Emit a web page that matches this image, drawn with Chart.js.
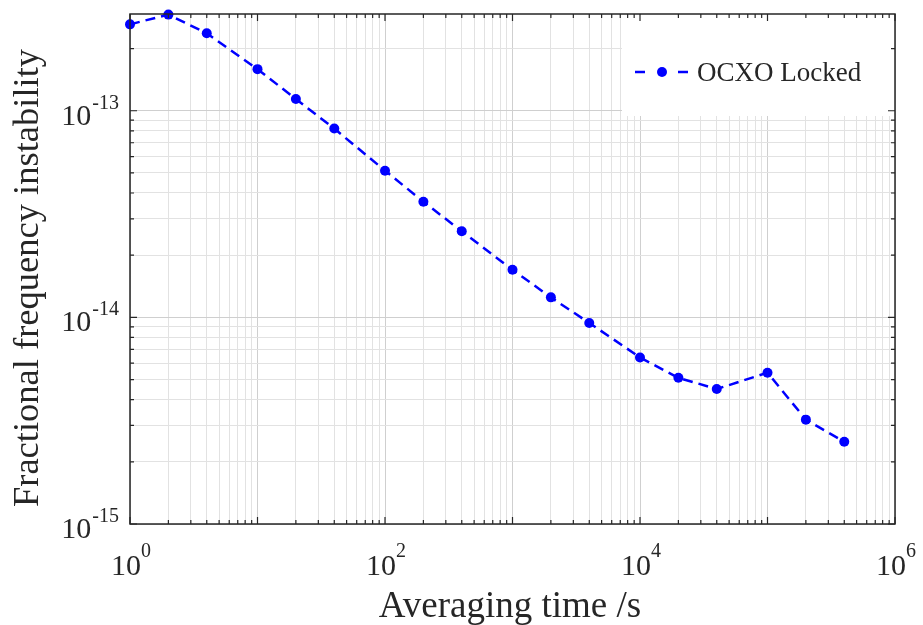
<!DOCTYPE html>
<html>
<head>
<meta charset="utf-8">
<script src="https://cdn.jsdelivr.net/npm/chart.js@4.4.1/dist/chart.umd.min.js"></script>
<style>
  html, body { margin: 0; padding: 0; background: #fff; }
  #wrap { width: 923px; height: 625px; }
</style>
</head>
<body>
<div id="wrap"><canvas id="adevChart"></canvas></div>
<script>
// averaging time (s) and Allan deviation
const tau  = [1, 2, 4, 10, 20, 40, 100, 200, 400, 1000, 2000, 4000, 10000, 20000, 40000, 100000, 200000, 400000];
const adev = [2.62e-13, 2.92e-13, 2.37e-13, 1.59e-13, 1.14e-13, 8.2e-14, 5.13e-14, 3.63e-14, 2.61e-14,
              1.70e-14, 1.25e-14, 9.4e-15, 6.4e-15, 5.1e-15, 4.5e-15, 5.4e-15, 3.2e-15, 2.5e-15];
const seriesLabel = 'OCXO Locked';
const xTickExps = [0, 2, 4, 6];
const yTickExps = [-15, -14, -13];
const xTitle = 'Averaging time /s';
const yTitle = 'Fractional frequency instability';

const X_MIN = 1, X_MAX = 1e6;
const Y_MIN = 1e-15, Y_MAX = 2.94e-13;
const SERIF = '"Liberation Serif", "Times New Roman", serif';
const INK = '#262626';
const BLUE = '#0000ff';

// 1..9 x 10^n ticks, like matlab's minor grid
function logTicks(min, max) {
    const out = [];
    for (let e = Math.floor(Math.log10(min)); e <= Math.ceil(Math.log10(max)); e++) {
        for (let m = 1; m <= 9; m++) {
            const v = Number(m + 'e' + e);
            if (v >= min * 0.999 && v <= max * 1.001) out.push({ value: v, major: m === 1 });
        }
    }
    return out;
}

function gridColor(c) {
    return c.tick && c.tick.major ? '#cfcfcf' : '#e2e2e2';
}

const framePlugin = {
    id: 'matlabFrame',
    afterDatasetsDraw(chart) {
        // legend box, top right inside the axes
        const { ctx, chartArea: a } = chart;
        const ds = chart.data.datasets[0];
        ctx.save();
        ctx.fillStyle = '#fff';
        ctx.fillRect(622, a.top + 1, a.right - 623, 101);
        ctx.strokeStyle = ds.borderColor;
        ctx.lineWidth = ds.borderWidth;
        ctx.beginPath();
        ctx.moveTo(635, 72); ctx.lineTo(645, 72);
        ctx.moveTo(678, 72); ctx.lineTo(688, 72);
        ctx.stroke();
        ctx.fillStyle = ds.pointBackgroundColor;
        ctx.beginPath();
        ctx.arc(662, 72, ds.pointRadius, 0, Math.PI * 2);
        ctx.fill();
        ctx.fillStyle = INK;
        ctx.font = '27px ' + SERIF;
        ctx.textBaseline = 'alphabetic';
        ctx.textAlign = 'left';
        ctx.fillText(ds.label, 697, 81);
        ctx.restore();
    },
    afterDraw(chart) {
        const { ctx, chartArea: a, scales: { x, y } } = chart;
        ctx.save();
        ctx.strokeStyle = INK;
        ctx.lineWidth = 1.5;
        ctx.strokeRect(a.left, a.top, a.right - a.left, a.bottom - a.top);

        // inward tick marks on all four sides
        ctx.lineWidth = 1.2;
        ctx.beginPath();
        x.ticks.forEach(t => {
            const px = x.getPixelForValue(t.value);
            const len = t.major ? 7 : 4;
            ctx.moveTo(px, a.bottom); ctx.lineTo(px, a.bottom - len);
            ctx.moveTo(px, a.top); ctx.lineTo(px, a.top + len);
        });
        y.ticks.forEach(t => {
            const py = y.getPixelForValue(t.value);
            const len = t.major ? 7 : 4;
            ctx.moveTo(a.left, py); ctx.lineTo(a.left + len, py);
            ctx.moveTo(a.right, py); ctx.lineTo(a.right - len, py);
        });
        ctx.stroke();

        // 10^n labels
        const big = '30px ' + SERIF, small = '20px ' + SERIF;
        ctx.fillStyle = INK;
        ctx.textBaseline = 'alphabetic';
        ctx.textAlign = 'left';
        xTickExps.forEach(e => {
            const px = x.getPixelForValue(Math.pow(10, e));
            ctx.font = big; const w1 = ctx.measureText('10').width;
            ctx.font = small; const w2 = ctx.measureText(String(e)).width;
            const x0 = px - (w1 + w2) / 2 + 1;
            ctx.font = big; ctx.fillText('10', x0, 575);
            ctx.font = small; ctx.fillText(String(e), x0 + w1, 557);
        });
        yTickExps.forEach(e => {
            const py = y.getPixelForValue(Math.pow(10, e));
            ctx.font = big; const w1 = ctx.measureText('10').width;
            ctx.font = small; const w2 = ctx.measureText(String(e)).width;
            const x0 = a.left - 12 - w1 - w2;
            ctx.font = big; ctx.fillText('10', x0, py + 14);
            ctx.font = small; ctx.fillText(String(e), x0 + w1 + 1, py - 2);
        });

        // axis titles
        ctx.textAlign = 'center';
        ctx.font = '37px ' + SERIF;
        ctx.fillText(xTitle, 510, 617);
        ctx.translate(38, 278);
        ctx.rotate(-Math.PI / 2);
        ctx.font = '36.5px ' + SERIF;
        ctx.fillText(yTitle, 0, 0);
        ctx.restore();
    }
};

const canvas = document.getElementById('adevChart');
new Chart(canvas.getContext('2d'), {
    type: 'line',
    data: {
        datasets: [{
            label: seriesLabel,
            data: tau.map((t, i) => ({ x: t, y: adev[i] })),
            borderColor: BLUE,
            backgroundColor: BLUE,
            borderWidth: 2.5,
            borderDash: [10, 6],
            pointRadius: 5,
            pointHoverRadius: 5,
            pointBackgroundColor: BLUE,
            pointBorderWidth: 0,
            fill: false,
            tension: 0,
            clip: false
        }]
    },
    options: {
        responsive: true,
        maintainAspectRatio: false,
        animation: false,
        events: [],
        layout: { padding: { left: 0, top: 14, right: 28, bottom: 0 } },
        plugins: { legend: { display: false }, tooltip: { enabled: false } },
        scales: {
            x: {
                type: 'logarithmic',
                min: X_MIN, max: X_MAX,
                afterBuildTicks: s => { s.ticks = logTicks(X_MIN, X_MAX); },
                afterFit: s => { s.height = 101; },
                ticks: { display: false, autoSkip: false },
                grid: { color: gridColor, lineWidth: 1, drawTicks: false },
                border: { display: false },
                title: { display: false }
            },
            y: {
                type: 'logarithmic',
                min: Y_MIN, max: Y_MAX,
                afterBuildTicks: s => { s.ticks = logTicks(Y_MIN, Y_MAX); },
                afterFit: s => { s.width = 130; },
                ticks: { display: false, autoSkip: false },
                grid: { color: gridColor, lineWidth: 1, drawTicks: false },
                border: { display: false },
                title: { display: false }
            }
        }
    },
    plugins: [framePlugin]
});
</script>
</body>
</html>
